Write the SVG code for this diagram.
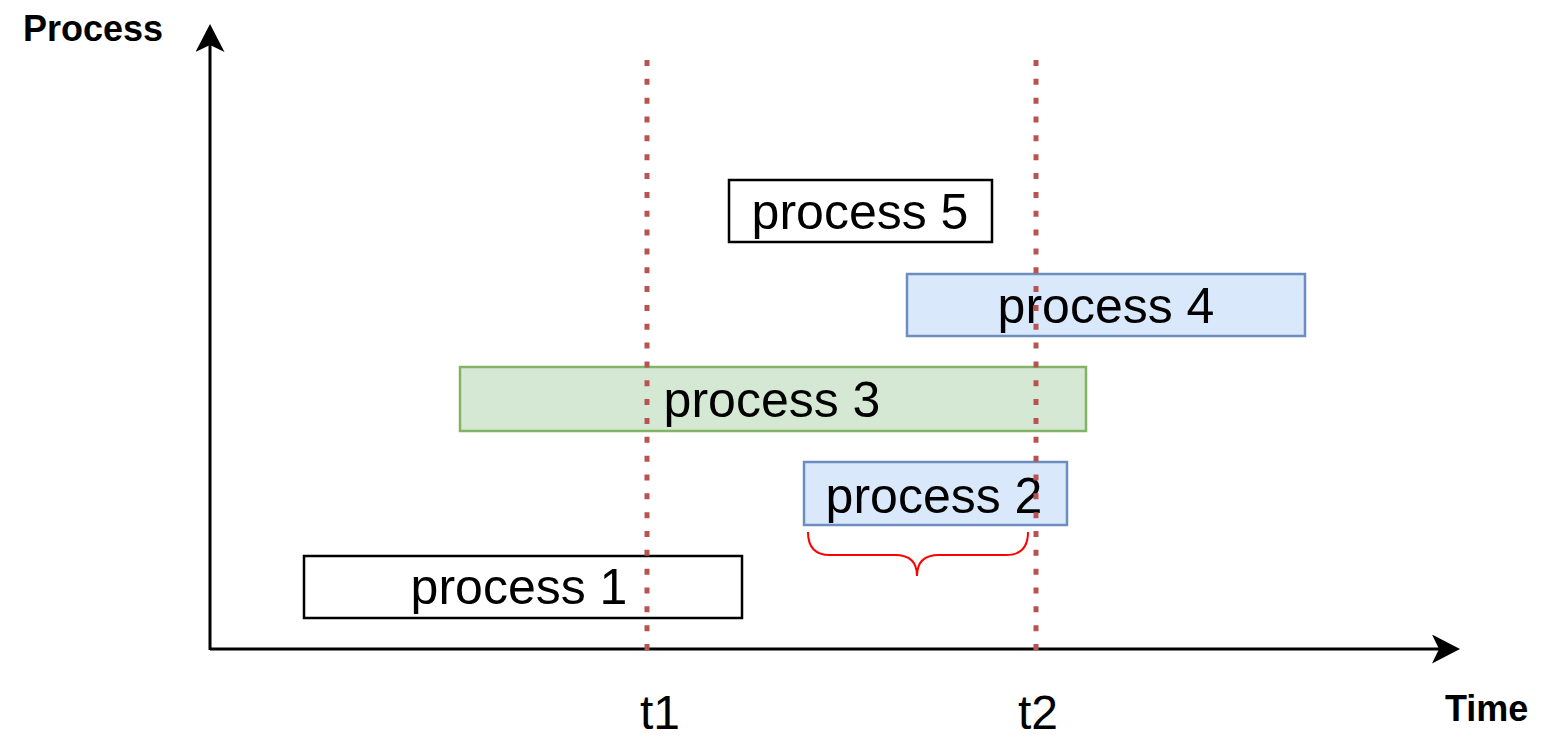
<svg xmlns="http://www.w3.org/2000/svg" width="1548" height="747" viewBox="0 0 1548 747">
<style>
.lbl{font-family:"Liberation Sans",Arial,sans-serif;font-size:50px;fill:#000;text-anchor:middle}
.tk{font-family:"Liberation Sans",Arial,sans-serif;font-size:48px;fill:#000;text-anchor:middle}
.ax{font-family:"Liberation Sans",Arial,sans-serif;font-size:36px;font-weight:bold;fill:#000}
.axis{stroke:#000;stroke-width:3;fill:none}
.dots{stroke:#b85450;stroke-width:5;stroke-dasharray:6 12.84;fill:none}
.plain{fill:#fff;stroke:#000;stroke-width:2.5}
.blue{fill:#dae8fc;stroke:#6c8ebf;stroke-width:2.5}
.green{fill:#d5e8d4;stroke:#82b366;stroke-width:2.5}
</style>
<defs>
<marker id="arr" markerUnits="userSpaceOnUse" markerWidth="30" markerHeight="30" refX="7" refY="14.5" orient="auto" viewBox="0 0 30 30">
<path d="M0,0 L28,14.5 L0,29 L7,14.5 Z" fill="#000"/>
</marker>
</defs>
<rect width="1548" height="747" fill="#fff"/>
<g id="axes">
<path class="axis" d="M210,650 L210,45" marker-end="url(#arr)"/>
<path class="axis" d="M210,649 L1439,649" marker-end="url(#arr)"/>
<text class="ax" x="23" y="41">Process</text>
<text class="ax" x="1445" y="721">Time</text>
</g>
<g id="node-p1"><rect class="plain" x="304" y="556" width="438" height="62"/><text class="lbl" x="519" y="604">process 1</text></g>
<g id="node-p3"><rect class="green" x="460" y="367" width="626" height="64"/><text class="lbl" x="772" y="417">process 3</text></g>
<g id="node-p2"><rect class="blue" x="804" y="462" width="263" height="63"/><text class="lbl" x="934" y="513">process 2</text></g>
<g id="node-p4"><rect class="blue" x="907" y="274" width="398" height="62"/><text class="lbl" x="1106" y="323">process 4</text></g>
<g id="node-p5"><rect class="plain" x="729" y="180" width="263" height="62"/><text class="lbl" x="860" y="229">process 5</text></g>
<g id="connectors">
<path class="dots" d="M647,60 L647,652"/>
<path class="dots" d="M1036,60 L1036,652"/>
<path d="M808,532 Q808,555 830,555 L895,555 Q917,555 917,576 Q917,555 939,555 L1006,555 Q1028,555 1028,532" fill="none" stroke="#ff0000" stroke-width="2"/>
</g>
<g id="ticks">
<text class="tk" x="660" y="729">t1</text>
<text class="tk" x="1038" y="729">t2</text>
</g>
</svg>
